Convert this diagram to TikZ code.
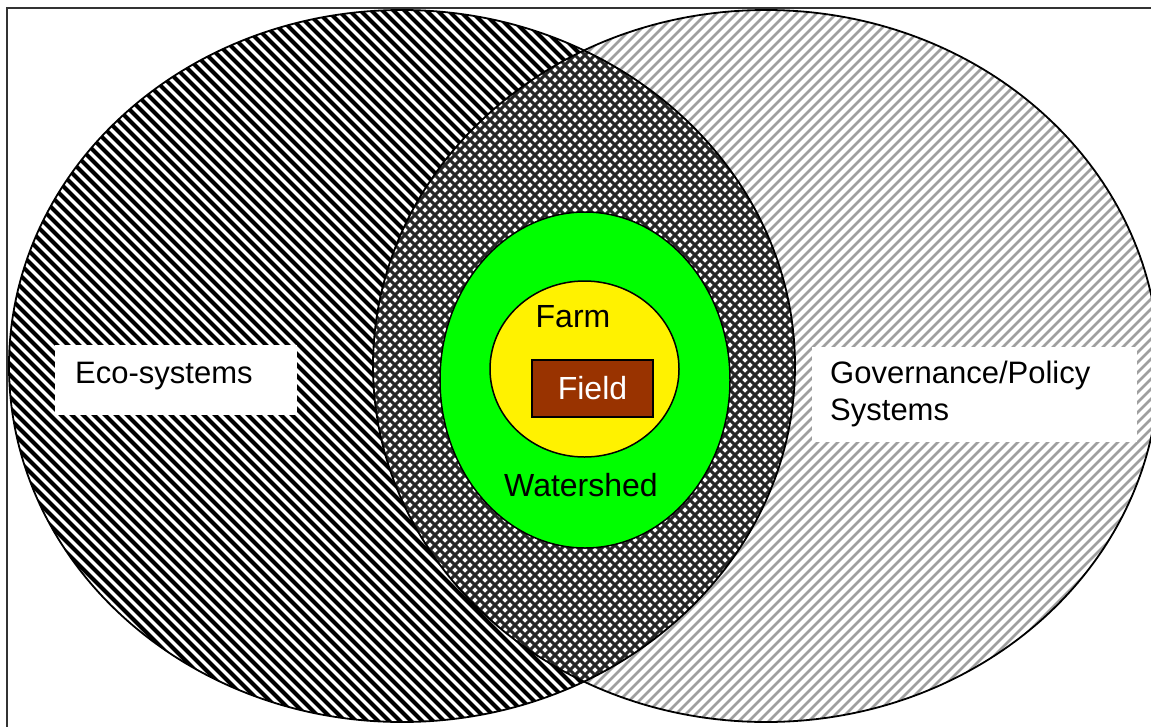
\documentclass[tikz,border=0pt]{standalone}
\usepackage{fontspec}
\setmainfont{Liberation Sans}
\usepackage{tikz}
\usetikzlibrary{shapes.geometric}

\definecolor{fieldbrown}{HTML}{993300}

\tikzset{
  labelbox/.style={fill=white, inner sep=0, anchor=north west},
  sidetext/.style={anchor=base west, align=left, inner sep=0, font=\fontsize{31}{37}\selectfont},
  innertext/.style={anchor=base, inner sep=0, font=\fontsize{32}{38}\selectfont},
}

\begin{document}
\begin{tikzpicture}[x=1pt, y=-1pt]
\useasboundingbox (0,0) rectangle (1151,726);

% frame
\draw[line width=2, black!80] (7,8) rectangle (1175,745);

% eco-systems hatching
\begin{scope}
\clip (402,366) ellipse [x radius=393, y radius=356];
\foreach \x in {-750,-739,...,810}
  \draw[line width=4] (\x,0) -- ++(740,740);
\end{scope}

% governance hatching
\begin{scope}
\clip (766,366) ellipse [x radius=393, y radius=356];
\foreach \x in {360,370,...,1910}
  \draw[line width=2.6, gray!75] (\x,0) -- ++(-740,740);
\end{scope}

% overlap crosshatch
\begin{scope}
\clip (402,366) ellipse [x radius=393, y radius=356];
\clip (766,366) ellipse [x radius=393, y radius=356];
\fill[white] (360,0) rectangle (800,726);
\foreach \x in {-380,-370,...,800}
  \draw[line width=3, black!85] (\x,0) -- ++(740,740);
\foreach \x in {360,370,...,1540}
  \draw[line width=3, black!85] (\x,0) -- ++(-740,740);
\end{scope}

\draw[line width=1.8] (402,366) ellipse [x radius=393, y radius=356];
\draw[line width=1.8] (766,366) ellipse [x radius=393, y radius=356];

% nested scales
\node[ellipse, draw, line width=1.5, fill=green, inner sep=0, minimum width=290, minimum height=336] (watershed) at (585,380) {};
\node[ellipse, draw, line width=1.5, fill=yellow, inner sep=0, minimum width=189, minimum height=176] (farm) at (584.5,369) {};
\node[draw, line width=1.5, fill=fieldbrown, text=white, inner sep=0, minimum width=121, minimum height=57, font=\fontsize{32}{38}\selectfont] (field) at (592.5,388.5) {Field};

\node[innertext] (farmlabel) at (573,327) {Farm};
\node[innertext] (watershedlabel) at (581,496) {Watershed};

% side labels
\node[labelbox, minimum width=242, minimum height=70] (ecobox) at (55,345) {};
\node[sidetext] (ecolabel) at (75,383) {Eco-systems};

\node[labelbox, minimum width=325, minimum height=95] (govbox) at (812,347) {};
\node[sidetext] (govlabel) at (830,420) {Governance/Policy\\Systems};

\end{tikzpicture}
\end{document}
